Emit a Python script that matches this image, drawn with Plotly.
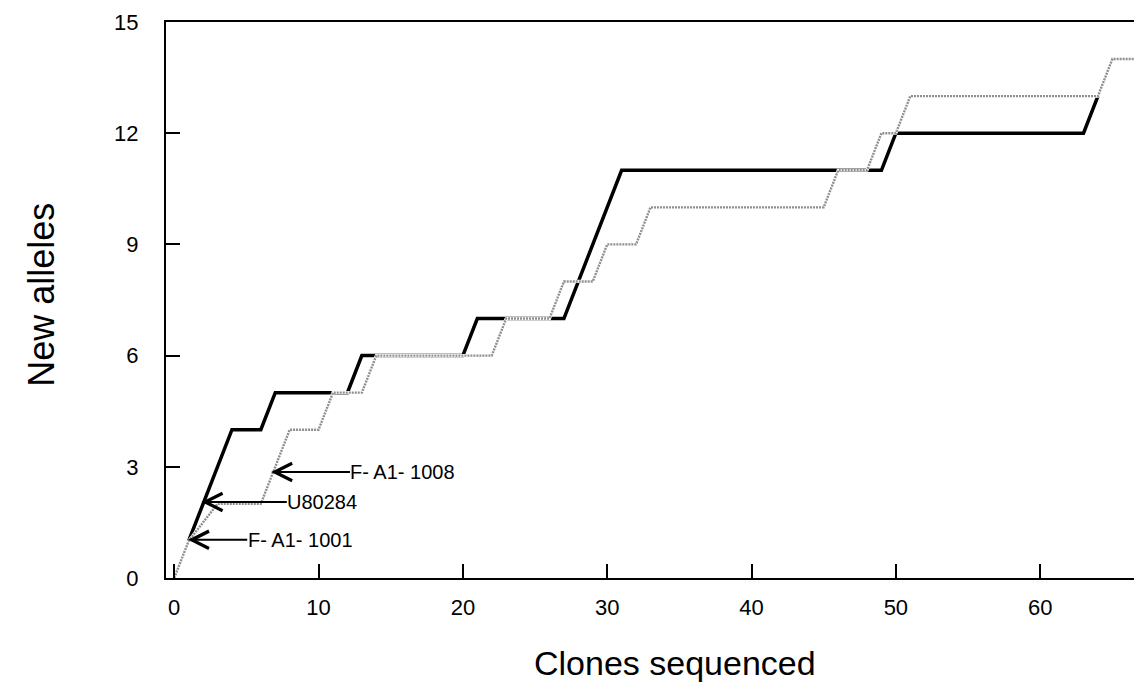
import plotly.graph_objects as go

# Corner points of the two cumulative step curves (clones sequenced, new alleles)
black_x = [1, 4, 6, 7, 12, 13, 20, 21, 27, 31, 49, 50, 63, 64]
black_y = [1, 4, 4, 5, 5, 6, 6, 7, 7, 11, 11, 12, 12, 13]

gray_x = [0, 1, 3, 6, 8, 10, 11, 13, 14, 22, 23, 26, 27, 29, 30, 32, 33,
          45, 46, 48, 49, 50, 51, 64, 65, 67]
gray_y = [0, 1, 2, 2, 4, 4, 5, 5, 6, 6, 7, 7, 8, 8, 9, 9, 10,
          10, 11, 11, 12, 12, 13, 13, 14, 14]

# Labelled points
label_text = ["F- A1- 1001", "U80284", "F- A1- 1008"]
label_tip_x = [0.95, 1.89, 6.71]
label_tip_y = [1.03, 2.05, 2.86]
label_text_x = [8.73, 10.26, 15.85]

x_ticks = [0, 10, 20, 30, 40, 50, 60]
y_ticks = [0, 3, 6, 9, 12, 15]

FONT = "Liberation Sans, Arial, Helvetica, sans-serif"

fig = go.Figure()
fig.add_trace(go.Scatter(x=black_x, y=black_y, mode="lines",
                         line=dict(color="black", width=3.5),
                         hoverinfo="skip", showlegend=False))
fig.add_trace(go.Scatter(x=gray_x, y=gray_y, mode="lines",
                         line=dict(color="white", width=3.2),
                         hoverinfo="skip", showlegend=False))
fig.add_trace(go.Scatter(x=gray_x, y=gray_y, mode="lines",
                         line=dict(color="#8f8f8f", width=2.4, dash="2px,1px"),
                         hoverinfo="skip", showlegend=False))

for t, tx, ty, lx in zip(label_text, label_tip_x, label_tip_y, label_text_x):
    fig.add_annotation(x=tx, y=ty, xref="x", yref="y",
                       ax=lx, ay=ty, axref="x", ayref="y",
                       text=t, showarrow=True, arrowhead=5, arrowsize=1.7,
                       arrowwidth=2, arrowcolor="black", standoff=0,
                       startstandoff=0, borderpad=0,
                       font=dict(family=FONT, size=20, color="black"))

fig.add_annotation(text="Clones sequenced", xref="paper", yref="paper",
                   x=0.519, y=-0.153, xanchor="center", yanchor="middle",
                   showarrow=False,
                   font=dict(family=FONT, size=34, color="black"))
fig.add_annotation(text="New alleles", xref="paper", yref="paper",
                   x=-0.127, y=0.51, xanchor="center", yanchor="middle",
                   showarrow=False, textangle=-90,
                   font=dict(family=FONT, size=36, color="black"))

axis_common = dict(showgrid=False, zeroline=False, showline=True,
                   linecolor="black", linewidth=2, mirror=True,
                   ticks="inside", ticklen=14, tickwidth=2, tickcolor="black",
                   tickfont=dict(family=FONT, size=22, color="black"))

fig.update_xaxes(range=[-0.57, 67.4], tickvals=x_ticks,
                 ticktext=[str(v) for v in x_ticks],
                 ticklabelstandoff=9, **axis_common)
fig.update_yaxes(range=[0, 15], tickvals=y_ticks,
                 ticktext=[str(v) for v in y_ticks],
                 ticklabelstandoff=21, **axis_common)

fig.update_layout(width=1142, height=686,
                  margin=dict(l=158, r=1, t=14, b=116),
                  plot_bgcolor="white", paper_bgcolor="white",
                  showlegend=False)

fig.write_html("out.html")
